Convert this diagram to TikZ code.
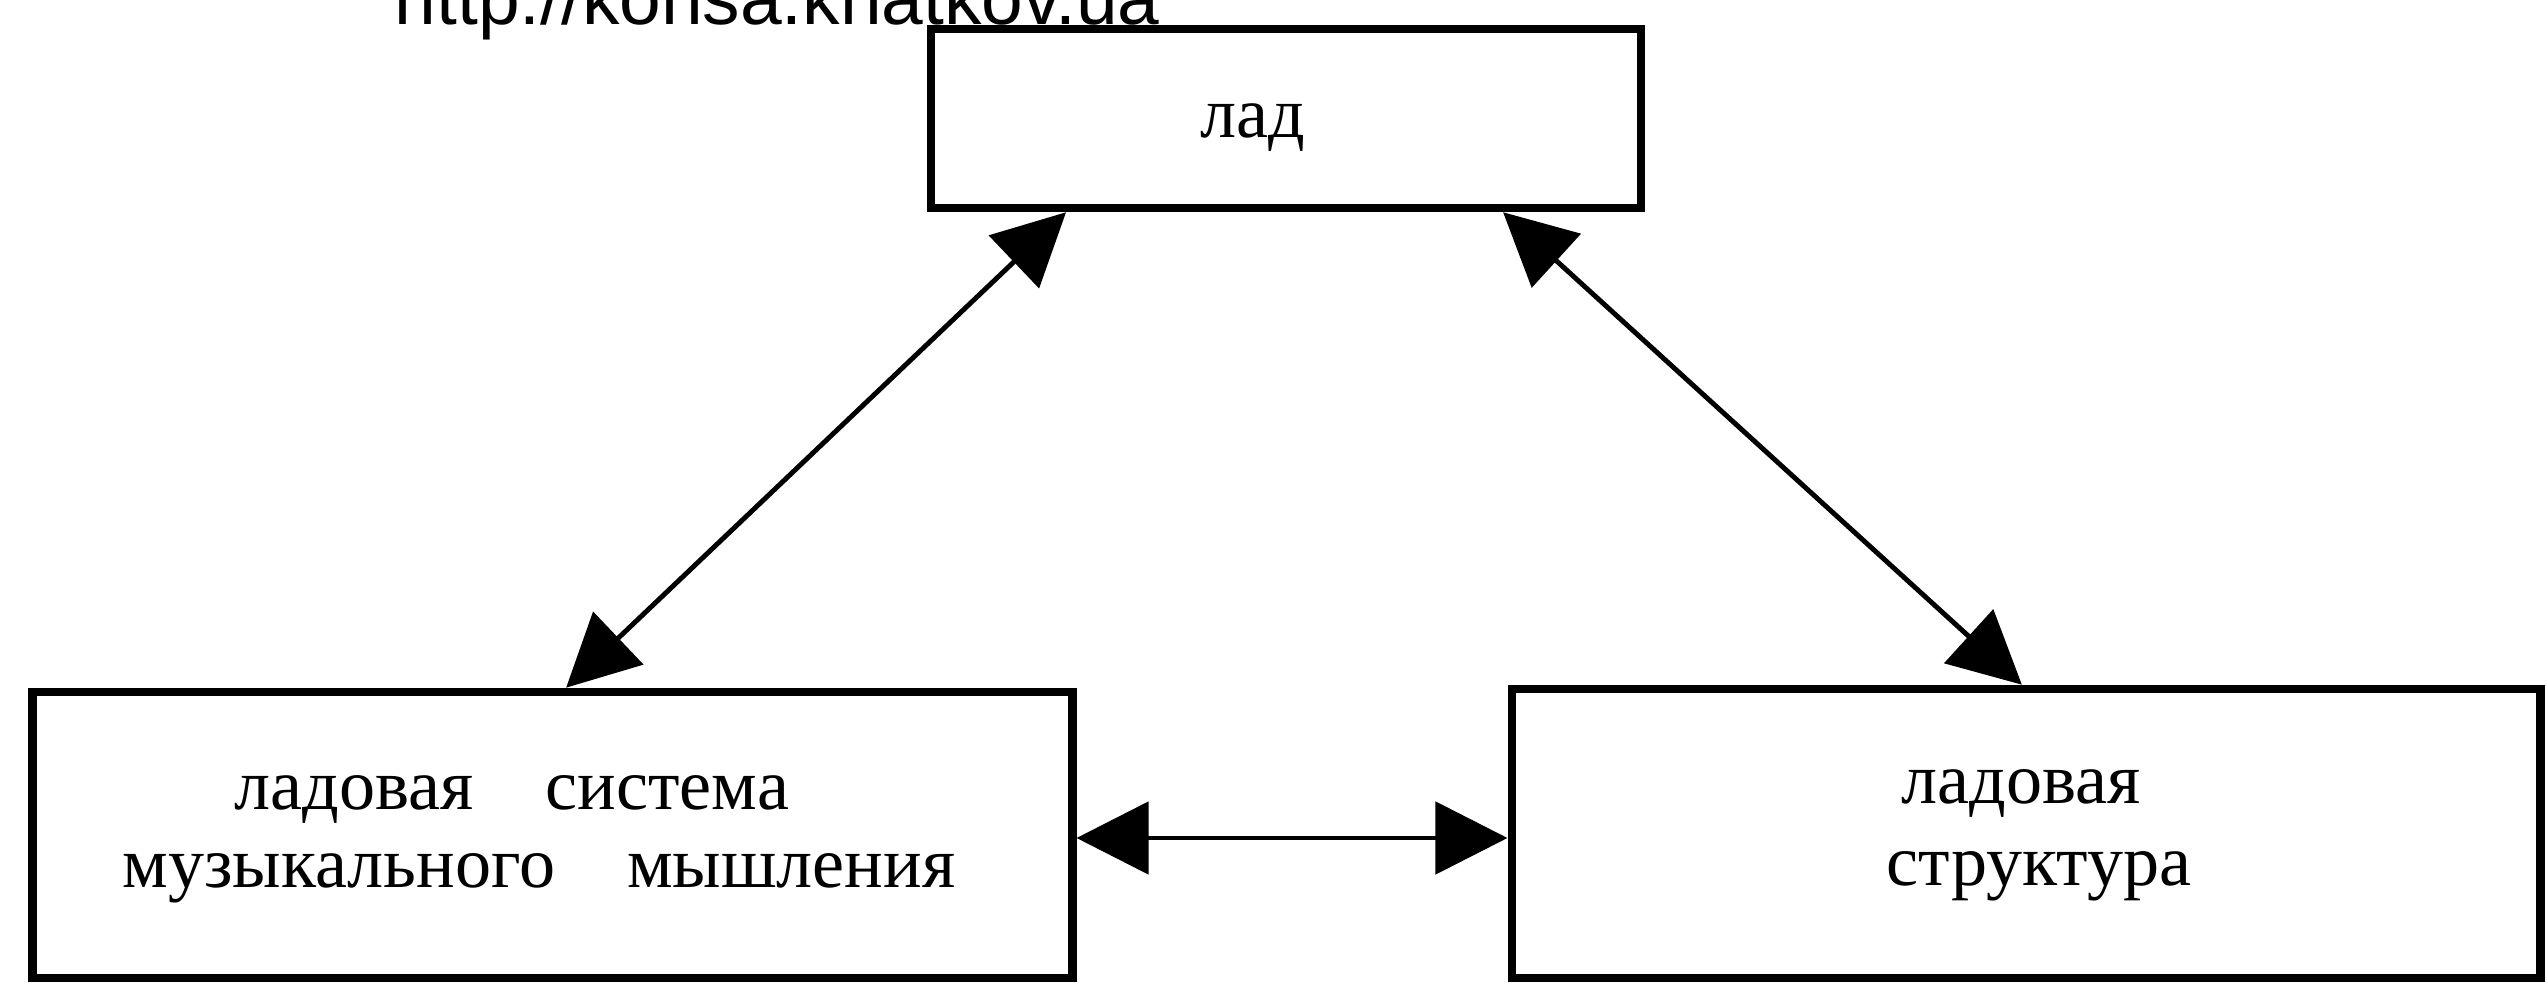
\documentclass[tikz,border=0pt]{standalone}
\usepackage{fontspec}
\setmainfont{Liberation Serif}
\newfontfamily\wmfont{Liberation Sans}
\usetikzlibrary{arrows.meta,calc}
\begin{document}
\begin{tikzpicture}[x=0.01cm,y=-0.01cm,
  box/.style={draw,line width=2.4pt,inner sep=0pt},
  lbl/.style={anchor=base,inner sep=0pt,font=\fontsize{20.5}{21}\selectfont},
  link/.style={line width=1.4pt,
    {Triangle[length=0.72cm,width=0.72cm]}-{Triangle[length=0.72cm,width=0.72cm]}}]
\useasboundingbox (0,0) rectangle (2546,983);
\node[anchor=base west,inner sep=0pt,font=\wmfont\fontsize{21.3}{22}\selectfont] (wm) at (394,25) {http://konsa.khatkov.ua};
% boxes
\node[box,minimum width=7.10cm,minimum height=1.79cm] (lad) at (1286,118.5) {};
\node[box,minimum width=10.39cm,minimum height=2.86cm] (sys) at (552.5,835) {};
\node[box,minimum width=10.28cm,minimum height=2.89cm] (str) at (2026,833.5) {};
% texts
\node[lbl] (ladT) at (1253,138) {лад};
\node[lbl] (sysT1) at (512,810) {ладовая\quad система};
\node[lbl] (sysT2) at (539,887) {музыкального\quad мышления};
\node[lbl] (strT1) at (2021,804) {ладовая};
\node[lbl] (strT2) at (2039,886) {структура};
% connectors
\coordinate (a1) at ($(lad.south west)!0.194!(lad.south east)$);
\coordinate (a2) at ($(lad.south west)!0.802!(lad.south east)$);
\coordinate (b1) at ($(sys.north west)!0.513!(sys.north east)$);
\coordinate (c1) at ($(str.north west)!0.496!(str.north east)$);
\draw[link] (a1) -- (b1);
\draw[link] (a2) -- (c1);
\draw[link] (sys.east |- 0,838) -- (str.west |- 0,838);
\end{tikzpicture}
\end{document}
